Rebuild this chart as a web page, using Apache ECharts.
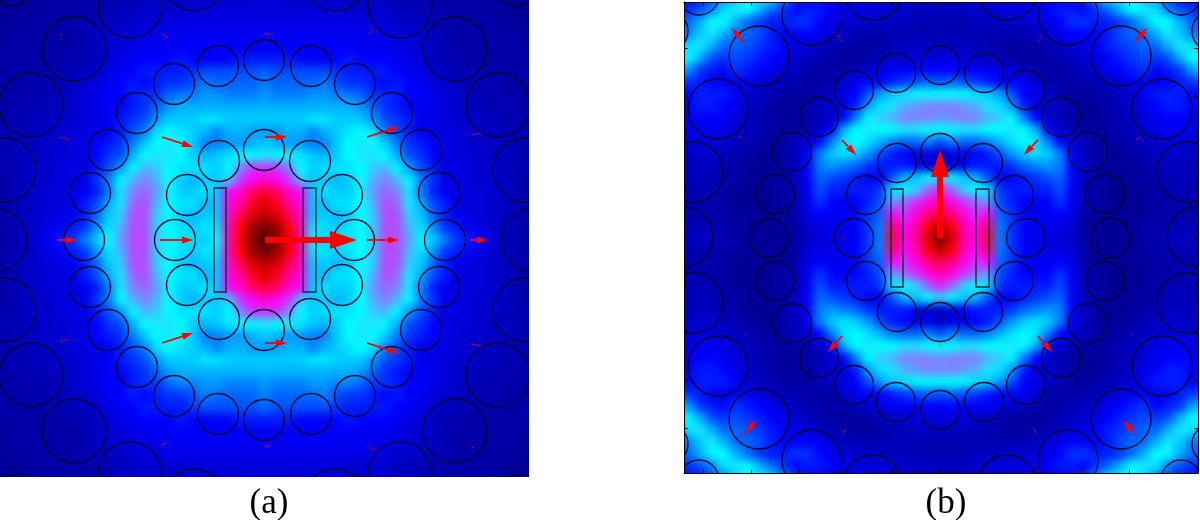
<!DOCTYPE html>
<html>
<head>
<meta charset="utf-8">
<title>Field plots (a) and (b)</title>
<script src="https://cdn.jsdelivr.net/npm/echarts@6/dist/echarts.min.js"></script>
<style>
  html, body { margin: 0; padding: 0; background: #fff; }
  #page { position: relative; width: 1200px; height: 520px; overflow: hidden; }
  .clip { position: absolute; overflow: hidden; }
  .heat { position: absolute; filter: blur(4px); }
  #clipA { left: 0; top: 0; width: 529px; height: 477px; }
  #clipB { left: 684px; top: 2px; width: 514px; height: 471px; }
  #heatA { left: -17px; top: -18px; width: 564px; height: 516px; }
  #heatB { left: -14px; top: -10px; width: 540px; height: 492px; }
  #overlay { position: absolute; left: 0; top: 0; width: 1200px; height: 520px; }
</style>
</head>
<body>
<div id="page">
  <div class="clip" id="clipA"><div class="heat" id="heatA"></div></div>
  <div class="clip" id="clipB"><div class="heat" id="heatB"></div></div>
  <div id="overlay"></div>
</div>
<script>
// field strength, 12px apart: upper-left quadrant,
// top row first, last value of each row on the vertical centre line.
// both plots are symmetric about their centre so the rest is mirrored.
// scale: 10 blue, 20 cyan, 30 magenta, 40 red, 50 dark red
var fieldA = [
  [2,2,2,2,2,2,2,2,3,3,3,4,4,4,4,5,5,5,5,6,6,6,6,6],
  [2,2,2,2,2,3,3,3,3,3,4,4,4,5,5,5,5,6,6,6,6,6,7,7],
  [2,2,2,2,3,3,3,3,3,4,4,5,5,6,6,6,6,7,7,7,7,7,7,7],
  [2,2,2,3,3,3,3,3,4,4,5,5,6,7,7,8,8,8,8,8,8,8,8,8],
  [2,2,3,3,3,3,3,3,4,5,6,7,7,8,8,9,9,9,9,9,9,9,9,9],
  [2,2,3,3,3,3,3,3,4,5,6,7,8,9,9,9,9,10,10,10,9,9,9,9],
  [3,3,3,3,3,3,3,4,4,5,7,8,9,10,10,10,11,10,9,9,10,11,11,11],
  [3,3,3,3,3,4,4,4,5,6,8,9,10,11,11,11,11,12,13,13,13,13,13,14],
  [3,3,3,3,4,4,4,5,6,7,9,10,11,10,11,12,12,13,15,14,14,14,14,15],
  [3,3,3,4,4,4,5,6,7,8,10,9,11,12,12,14,15,15,16,16,15,15,15,16],
  [3,3,4,4,4,5,5,6,7,8,9,10,11,12,14,16,17,17,17,17,17,17,17,17],
  [3,3,4,4,5,5,6,6,7,8,9,11,12,13,16,18,18,18,19,19,18,18,18,18],
  [3,4,4,4,5,5,6,7,8,8,8,11,13,15,19,20,19,18,17,15,17,17,16,16],
  [3,4,4,5,5,6,6,7,8,10,11,12,15,18,20,21,20,18,15,15,16,16,17,18],
  [3,4,4,5,5,6,7,7,8,10,12,13,17,20,21,21,20,18,17,18,19,20,20,21],
  [3,4,4,5,6,6,7,8,7,11,13,16,20,23,22,20,19,19,19,18,20,25,28,28],
  [3,3,4,5,6,6,7,8,8,12,15,20,23,25,23,20,18,17,18,18,22,28,30,32],
  [3,3,4,5,6,7,7,8,9,11,15,21,25,26,24,20,18,18,19,18,30,32,36,38],
  [3,3,4,5,6,7,7,8,11,13,17,21,26,27,23,20,19,19,17,18,31,34,39,42],
  [3,3,4,5,6,7,8,9,11,14,18,22,27,27,22,20,18,17,18,18,32,37,42,44],
  [3,3,4,5,6,8,9,11,12,16,19,23,27,27,22,20,19,18,19,19,33,40,46,48],
  [3,3,4,5,7,9,11,12,15,18,20,24,27,27,22,20,19,19,18,20,33,41,47,50]
];
var fieldB = [
  [9,10,11,13,15,18,20,21,19,15,12,10,10,9,9,8,8,7,7,6,6,5,5],
  [11,12,13,15,19,21,20,17,14,12,10,11,11,10,9,8,7,7,6,6,5,5,5],
  [13,14,17,20,20,17,14,12,11,11,12,12,10,8,7,6,6,5,5,5,4,4,4],
  [14,15,18,21,17,14,14,13,11,10,10,10,9,7,5,4,4,4,4,4,4,4,4],
  [17,19,21,17,14,14,13,12,11,9,8,7,5,4,3,3,2,3,4,5,5,5,5],
  [20,20,17,13,12,13,12,11,10,8,6,5,4,3,2,2,3,4,5,6,7,7,7],
  [18,16,12,11,10,12,11,10,9,6,5,4,3,3,3,5,6,8,9,9,10,10,10],
  [13,12,11,9,8,9,9,7,5,4,4,3,3,3,6,9,10,10,11,12,13,14,13],
  [10,10,11,11,11,9,6,5,4,3,2,3,4,6,8,10,13,16,18,19,20,20,20],
  [8,10,11,11,10,8,6,5,3,2,2,3,5,6,7,11,16,19,21,23,24,25,25],
  [7,9,10,10,9,7,5,4,3,2,2,3,4,6,10,15,20,22,23,25,25,25,24],
  [6,8,9,9,8,6,5,4,3,2,3,4,6,9,17,20,21,20,20,21,21,20,20],
  [5,6,7,7,6,5,4,3,2,3,5,7,10,15,19,20,19,17,15,14,14,15,13],
  [5,5,6,6,5,4,3,2,2,3,5,9,15,18,19,18,16,13,11,10,9,8,5],
  [4,4,5,5,4,3,2,2,2,3,5,10,15,16,15,14,12,11,11,11,9,7,5],
  [4,4,5,4,3,3,2,2,2,3,5,10,14,13,12,11,10,10,13,17,18,20,22],
  [3,4,4,4,3,2,2,1,2,3,4,9,13,11,11,11,11,12,19,20,22,26,29],
  [3,4,4,3,3,2,2,1,2,3,4,9,12,10,9,10,11,13,24,26,28,31,33],
  [3,3,4,3,3,2,2,2,2,2,3,8,10,9,9,10,12,14,30,28,31,35,37],
  [4,4,4,4,3,3,2,2,2,2,3,7,8,8,9,10,12,15,36,30,33,40,44],
  [5,5,5,5,4,3,2,2,2,2,3,5,7,8,8,9,12,15,38,31,34,42,48]
];
var fieldColors = ['#000080', '#0000ff', '#00ffff', '#ff00ff', '#ff0000', '#500000'];

// cylinders as [x, y, radius], axes are in page pixels
var cylindersA = [
  [74,49,32],[455,49,32],[74,431,32],[455,431,32],[31,105,32],[498,105,32],[31,375,32],[498,375,32],
  [4,170,32],[525,170,32],[4,310,32],[525,310,32],[-5,240,32],[534,240,32],
  [130,6,32],[400,6,32],[130,474,32],[400,474,32],[194,-21,32],[335,-21,32],[194,501,32],[335,501,32],
  [13,-14,20],[516,-14,20],[13,495,20],[516,495,20],
  [264,60,20.5],[264,420,20.5],[218,66,20.5],[311,66,20.5],[218,414,20.5],[311,414,20.5],
  [174,84,20.5],[355,84,20.5],[174,396,20.5],[355,396,20.5],[137,113,20.5],[392,113,20.5],[137,367,20.5],[392,367,20.5],
  [108,150,20.5],[421,150,20.5],[108,330,20.5],[421,330,20.5],[90,193,20.5],[439,193,20.5],[90,287,20.5],[439,287,20.5],
  [84,240,20.5],[445,240,20.5],
  [264,150,20.5],[264,330,20.5],[219,161,20.5],[310,161,20.5],[219,319,20.5],[310,319,20.5],
  [187,195,20.5],[342,195,20.5],[187,285,20.5],[342,285,20.5],[175,240,20.5],[354,240,20.5]
];
var cylindersB = [
  [759,56,30],[1121,56,30],[759,419,30],[1121,419,30],[718,109,30],[1162,109,30],[718,366,30],[1162,366,30],
  [693,172,30],[1187,172,30],[693,303,30],[1187,303,30],[683,237,30],[1197,237,30],
  [812,15,30],[1068,15,30],[812,460,30],[1068,460,30],[873,-10,30],[1007,-10,30],[873,485,30],[1007,485,30],
  [699,-5,20],[1181,-5,20],[699,480,20],[1181,480,20],[668,31,20],[1212,31,20],[668,444,20],[1212,444,20],
  [940,65,19.5],[940,410,19.5],[896,73,19.5],[984,73,19.5],[896,402,19.5],[984,402,19.5],
  [854,90,19.5],[1026,90,19.5],[854,385,19.5],[1026,385,19.5],[819,117,19.5],[1061,117,19.5],[819,358,19.5],[1061,358,19.5],
  [792,152,19.5],[1088,152,19.5],[792,323,19.5],[1088,323,19.5],[775,194,19.5],[1105,194,19.5],[775,281,19.5],[1105,281,19.5],
  [769,238,19.5],[1111,238,19.5],
  [940,153,19.5],[940,322,19.5],[897,163,19.5],[983,163,19.5],[897,312,19.5],[983,312,19.5],
  [866,195,19.5],[1014,195,19.5],[866,281,19.5],[1014,281,19.5],[854,238,19.5],[1026,238,19.5]
];

// the two slabs as [x0, y0, x1, y1]
var slabsA = [[214,188,226,292],[303,188,316,292]];
var slabsB = [[891,189,903,287],[976,189,989,287]];

// field arrows as [x0, y0, x1, y1]
var arrowsA = [
  [265,240,357,240],
  [162,137,193,147],[367,137,399,127],[162,343,193,333],[367,343,399,353],
  [160,240,193,240],[367,240,399,240],[265,137,287,137],[265,343,287,343],[58,240,77,240],[470,240,488,240],
  [60,137,69,140],[161,33,168,38],[369,33,373,31],[472,135,482,133],[265,34,274,34],
  [60,342,69,339],[161,445,167,443],[367,446,374,450],[472,344,482,346],[265,446,272,446],
  [60,34,61,35],[472,447,473,448]
];
var arrowsB = [
  [940,238,940,150],
  [743,42,732,28],[842,140,856,155],[1038,140,1024,155],[1135,42,1147,28],
  [842,336,828,352],[744,434,757,420],[1038,336,1052,352],[1135,433,1123,421],
  [838,35,842,42],[740,136,741,138],[1038,42,1042,36],[1136,140,1141,136],
  [745,335,748,333],[843,435,845,429],[1033,428,1037,434],[1131,333,1133,335],
  [940,346,941,345],[842,238,843,239],[1037,238,1038,239]
];

// tick marks of plot (b)
var ticksBx = [703,751,798,845,892,940,987,1034,1082,1129,1177];
var ticksBy = [48,96,143,191,238,285,333,380,428];

var panelLabels = ['(a)', '(b)'];

function mirrorCells(rows) {
  var cells = [];
  var n = rows.length, m = rows[0].length;
  for (var r = 0; r < 2 * n - 1; r++) {
    for (var c = 0; c < 2 * m - 1; c++) {
      var rr = r < n ? r : 2 * n - 2 - r;
      var cc = c < m ? c : 2 * m - 2 - c;
      cells.push([c, r, rows[rr][cc]]);
    }
  }
  return cells;
}

function indexList(count) {
  var list = [];
  for (var i = 0; i < count; i++) list.push(i);
  return list;
}

function drawHeat(id, rows) {
  var chart = echarts.init(document.getElementById(id));
  chart.setOption({
    animation: false,
    backgroundColor: '#0000a0',
    grid: { left: 0, right: 0, top: 0, bottom: 0 },
    xAxis: { type: 'category', show: false, data: indexList(rows[0].length * 2 - 1) },
    yAxis: { type: 'category', show: false, inverse: true, data: indexList(rows.length * 2 - 1) },
    visualMap: { show: false, min: 0, max: 50, seriesIndex: 0, inRange: { color: fieldColors } },
    series: [{ type: 'heatmap', data: mirrorCells(rows), progressive: 0, itemStyle: { borderWidth: 0 } }]
  });
}

function renderCylinder(params, api) {
  var c = api.coord([api.value(0), api.value(1)]);
  var r = api.size([api.value(2), 0])[0];
  return {
    type: 'circle',
    shape: { cx: c[0], cy: c[1], r: r },
    style: { fill: 'none', stroke: '#06062a', lineWidth: 1.3 }
  };
}

function renderSlab(params, api) {
  var a = api.coord([api.value(0), api.value(1)]);
  var b = api.coord([api.value(2), api.value(3)]);
  return {
    type: 'rect',
    shape: { x: a[0], y: a[1], width: b[0] - a[0], height: b[1] - a[1] },
    style: { fill: 'none', stroke: '#12283c', lineWidth: 1.4 }
  };
}

function renderArrow(params, api) {
  var a = api.coord([api.value(0), api.value(1)]);
  var b = api.coord([api.value(2), api.value(3)]);
  var dx = b[0] - a[0], dy = b[1] - a[1];
  var len = Math.sqrt(dx * dx + dy * dy);
  if (len < 12) {
    return {
      type: 'line',
      shape: { x1: a[0], y1: a[1], x2: b[0], y2: b[1] },
      style: { stroke: '#ff0000', lineWidth: 1, lineDash: [2, 1] }
    };
  }
  var big = len > 60;
  var headLen = big ? 27 : 11;
  var headHalf = big ? 9 : 3.5;
  var ux = dx / len, uy = dy / len;
  var bx = b[0] - ux * headLen, by = b[1] - uy * headLen;
  return {
    type: 'group',
    children: [{
      type: 'line',
      shape: { x1: a[0], y1: a[1], x2: bx, y2: by },
      style: { stroke: '#ff0000', lineWidth: big ? 6 : 1.8 }
    }, {
      type: 'polygon',
      shape: { points: [[b[0], b[1]], [bx - uy * headHalf, by + ux * headHalf], [bx + uy * headHalf, by - ux * headHalf]] },
      style: { fill: '#ff0000' }
    }]
  };
}

function customSeries(axisIndex, data, render, dims) {
  return {
    type: 'custom',
    xAxisIndex: axisIndex,
    yAxisIndex: axisIndex,
    clip: true,
    silent: true,
    data: data,
    encode: dims === 3 ? { x: 0, y: 1 } : { x: [0, 2], y: [1, 3] },
    renderItem: render
  };
}

function boxAxis(kind, range, position, ticks) {
  var axis = {
    type: 'value',
    min: range[0],
    max: range[1],
    position: position,
    inverse: kind === 'y',
    splitLine: { show: false },
    axisLabel: { show: false }
  };
  if (ticks) {
    axis.axisLine = { show: true, onZero: false, lineStyle: { color: '#000', width: 1 } };
    axis.axisTick = { show: true, inside: true, length: 4, customValues: ticks, lineStyle: { color: '#000' } };
  } else {
    axis.show = false;
  }
  return axis;
}

drawHeat('heatA', fieldA);
drawHeat('heatB', fieldB);

var overlay = echarts.init(document.getElementById('overlay'));
overlay.setOption({
  animation: false,
  backgroundColor: 'transparent',
  title: [
    { text: panelLabels[0], left: 264, top: 481, textAlign: 'center', textStyle: { fontFamily: 'Liberation Serif', fontSize: 35, fontWeight: 'normal', color: '#000' } },
    { text: panelLabels[1], left: 941, top: 481, textAlign: 'center', textStyle: { fontFamily: 'Liberation Serif', fontSize: 35, fontWeight: 'normal', color: '#000' } }
  ],
  grid: [
    { left: 0, top: 0, width: 529, height: 477 },
    { left: 684, top: 2, width: 514, height: 471 }
  ],
  xAxis: [
    Object.assign(boxAxis('x', [0, 529], 'bottom'), { gridIndex: 0 }),
    Object.assign(boxAxis('x', [684, 1198], 'bottom', ticksBx), { gridIndex: 1 }),
    Object.assign(boxAxis('x', [684, 1198], 'top', ticksBx), { gridIndex: 1 })
  ],
  yAxis: [
    Object.assign(boxAxis('y', [0, 477], 'left'), { gridIndex: 0 }),
    Object.assign(boxAxis('y', [2, 473], 'left', ticksBy), { gridIndex: 1 }),
    Object.assign(boxAxis('y', [2, 473], 'right', ticksBy), { gridIndex: 1 })
  ],
  series: [
    customSeries(0, cylindersA, renderCylinder, 3),
    customSeries(0, slabsA, renderSlab, 4),
    customSeries(0, arrowsA, renderArrow, 4),
    customSeries(1, cylindersB, renderCylinder, 3),
    customSeries(1, slabsB, renderSlab, 4),
    customSeries(1, arrowsB, renderArrow, 4)
  ]
});
</script>
</body>
</html>
